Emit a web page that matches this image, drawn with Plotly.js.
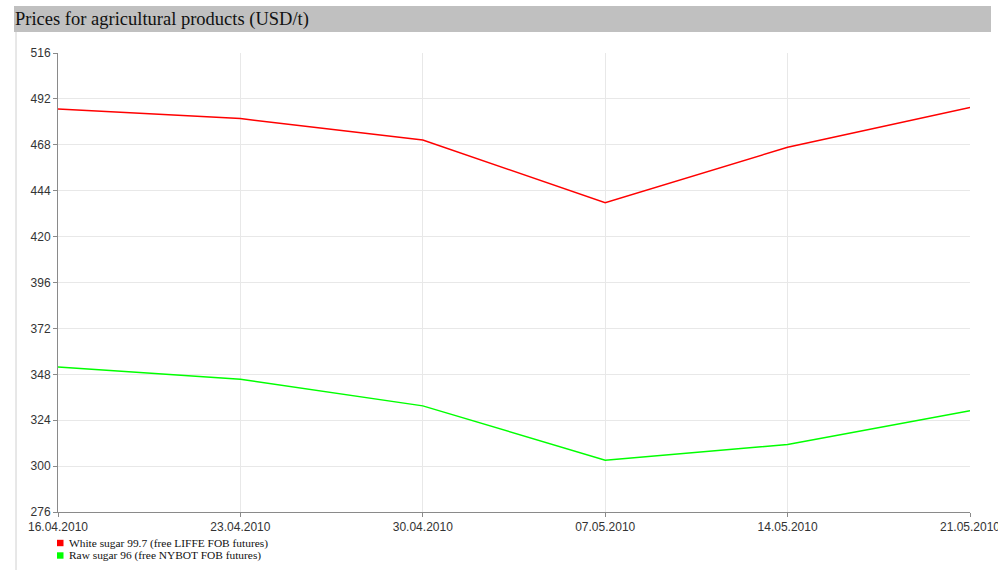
<!DOCTYPE html>
<html>
<head>
<meta charset="utf-8">
<script src="https://cdn.plot.ly/plotly-3.0.1.min.js"></script>
<style>
html,body{margin:0;padding:0;background:#fff;}
#chart{width:998px;height:570px;}
</style>
</head>
<body>
<div id="chart"></div>
<script>
var chartTitle = "Prices for agricultural products (USD/t)";
var dates = ["2010-04-16", "2010-04-23", "2010-04-30", "2010-05-07", "2010-05-14", "2010-05-21"];
var dateLabels = ["16.04.2010", "23.04.2010", "30.04.2010", "07.05.2010", "14.05.2010", "21.05.2010"];
var whiteSugar = [486.7, 481.7, 470.5, 437.7, 466.7, 487.5];
var rawSugar = [351.8, 345.4, 331.5, 303.1, 311.3, 328.9];
var seriesNames = ["White sugar 99.7 (free LIFFE FOB futures)", "Raw sugar 96 (free NYBOT FOB futures)"];
var seriesColors = ["#ff0000", "#00ff00"];
var yTicks = [276, 300, 324, 348, 372, 396, 420, 444, 468, 492, 516];

// plot area pixels: left 58, right 970, top 53, bottom 512
var L = 58, R = 970, T = 53, B = 512;
function px(x) { return (x - L) / (R - L); }
function py(y) { return (B - y) / (B - T); }

var traces = [
  {x: dates, y: whiteSugar, name: seriesNames[0], mode: "lines", line: {color: seriesColors[0], width: 1.5}, showlegend: false, hoverinfo: "x+y"},
  {x: dates, y: rawSugar, name: seriesNames[1], mode: "lines", line: {color: seriesColors[1], width: 1.5}, showlegend: false, hoverinfo: "x+y"}
];

var shapes = [
  {type: "rect", xref: "paper", yref: "paper", x0: px(14), x1: px(991), y0: py(32), y1: py(6), fillcolor: "#c0c0c0", line: {width: 0}, layer: "below"},
  {type: "line", xref: "paper", yref: "paper", x0: px(16), x1: px(16), y0: py(32), y1: py(572), line: {color: "#d0d0d0", width: 1}}
];
var annotations = [
  {xref: "paper", yref: "paper", x: px(13), y: py(19.5), xanchor: "left", yanchor: "middle", text: chartTitle, showarrow: false,
   font: {family: "Liberation Serif, Times New Roman, serif", size: 18.5, color: "#111"}}
];
var legendRows = [543, 555.5];
for (var i = 0; i < seriesNames.length; i++) {
  shapes.push({type: "rect", xref: "paper", yref: "paper", x0: px(57), x1: px(63.5), y0: py(legendRows[i] + 3.2), y1: py(legendRows[i] - 3.2),
    fillcolor: seriesColors[i], line: {width: 0}});
  annotations.push({xref: "paper", yref: "paper", x: px(67), y: py(legendRows[i]), xanchor: "left", yanchor: "middle", text: seriesNames[i],
    showarrow: false, font: {family: "Liberation Serif, Times New Roman, serif", size: 11.4, color: "#111"}});
}

var layout = {
  width: 998, height: 570,
  margin: {l: L, r: 998 - R, t: T, b: 570 - B, pad: 0},
  paper_bgcolor: "#ffffff", plot_bgcolor: "#ffffff",
  showlegend: false,
  xaxis: {
    type: "date", range: [dates[0], dates[dates.length - 1]],
    tickmode: "array", tickvals: dates, ticktext: dateLabels,
    ticklabeloverflow: "allow",
    showgrid: true, gridcolor: "#e8e8e8", gridwidth: 1,
    showline: true, linecolor: "#8a8a8a", linewidth: 1,
    ticks: "outside", ticklen: 4, tickcolor: "#8a8a8a",
    tickfont: {family: "Liberation Sans, Arial, sans-serif", size: 12, color: "#333"},
    zeroline: false, fixedrange: true
  },
  yaxis: {
    range: [276, 516], tickmode: "array", tickvals: yTicks,
    showgrid: true, gridcolor: "#e8e8e8", gridwidth: 1,
    showline: true, linecolor: "#8a8a8a", linewidth: 1,
    ticks: "outside", ticklen: 4, tickcolor: "#8a8a8a",
    tickfont: {family: "Liberation Sans, Arial, sans-serif", size: 12, color: "#333"},
    zeroline: false, fixedrange: true
  },
  shapes: shapes,
  annotations: annotations
};

Plotly.newPlot("chart", traces, layout, {displayModeBar: false, staticPlot: true});
</script>
</body>
</html>
